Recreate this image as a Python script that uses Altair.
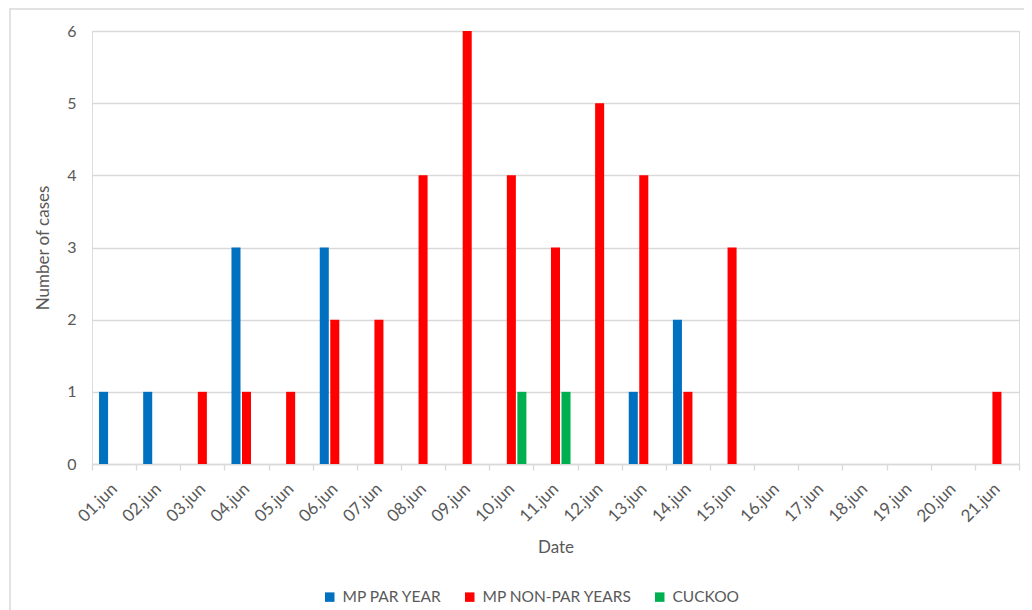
import altair as alt
import pandas as pd

dates = [f"{d:02d}.jun" for d in range(1, 22)]
series = ["MP PAR YEAR", "MP NON-PAR YEARS", "CUCKOO"]
mp_par = [1, 1, 0, 3, 0, 3, 0, 0, 0, 0, 0, 0, 1, 2, 0, 0, 0, 0, 0, 0, 0]
mp_nonpar = [0, 0, 1, 1, 1, 2, 2, 4, 6, 4, 3, 5, 4, 1, 3, 0, 0, 0, 0, 0, 1]
cuckoo = [0, 0, 0, 0, 0, 0, 0, 0, 0, 1, 1, 0, 0, 0, 0, 0, 0, 0, 0, 0, 0]
colors = ["#0070C0", "#FF0000", "#00B050"]

rows = []
for s, vals in zip(series, [mp_par, mp_nonpar, cuckoo]):
    for d, v in zip(dates, vals):
        rows.append({"Date": d, "Series": s, "Cases": v})
df = pd.DataFrame(rows)

FONT = "Lato"
GREY = "#595959"

bars = alt.Chart(df).transform_filter("datum.Cases > 0").mark_bar().encode(
    x=alt.X("Date:N", sort=dates, scale=alt.Scale(domain=dates, paddingInner=0, paddingOuter=0),
            axis=alt.Axis(title="Date", labelAngle=-45, labelAlign="right", labelBaseline="middle",
                          labelPadding=16, labelFontSize=17, labelColor=GREY, titleFontSize=17,
                          titleColor=GREY, titleFontWeight="normal", titlePadding=15,
                          tickBand="extent", tickSize=6, tickColor="#d9d9d9", tickWidth=1.3,
                          domainColor="#d9d9d9", domainWidth=1.3, grid=False)),
    xOffset=alt.XOffset("Series:N", sort=series,
                        scale=alt.Scale(domain=series, paddingInner=0.14, paddingOuter=0.67)),
    y=alt.Y("Cases:Q", scale=alt.Scale(domain=[0, 6]),
            axis=alt.Axis(title="Number of cases", values=[0, 1, 2, 3, 4, 5, 6], labelFontSize=16,
                          labelColor=GREY, labelPadding=16, ticks=False, domain=False,
                          gridColor="#d9d9d9", gridWidth=1.3, titleFontSize=17, titleColor=GREY,
                          titleFontWeight="normal", titlePadding=14)),
    color=alt.Color("Series:N", sort=series, scale=alt.Scale(domain=series, range=colors),
                    legend=alt.Legend(title=None, orient="none", direction="horizontal",
                                      legendX=230, legendY=558, symbolType="square", symbolSize=90,
                                      symbolStrokeWidth=0, labelFontSize=15.5, labelColor=GREY,
                                      columnPadding=20, labelOffset=5, padding=0)),
)

border = alt.Chart(alt.Data(values=[{"a": 1}])).mark_rect(
    fill="transparent", stroke="#d9d9d9", strokeWidth=1.5
).encode(x=alt.value(-82), x2=alt.value(960), y=alt.value(-22), y2=alt.value(640))

chart = alt.layer(border, bars).properties(
    width=927, height=433,
    autosize=alt.AutoSizeParams(type="none"),
    padding={"left": 84, "top": 23, "right": 5, "bottom": 146},
).configure_view(stroke=None).configure(font=FONT)

chart.save("out.html", embed_options={"renderer": "svg", "actions": False})
